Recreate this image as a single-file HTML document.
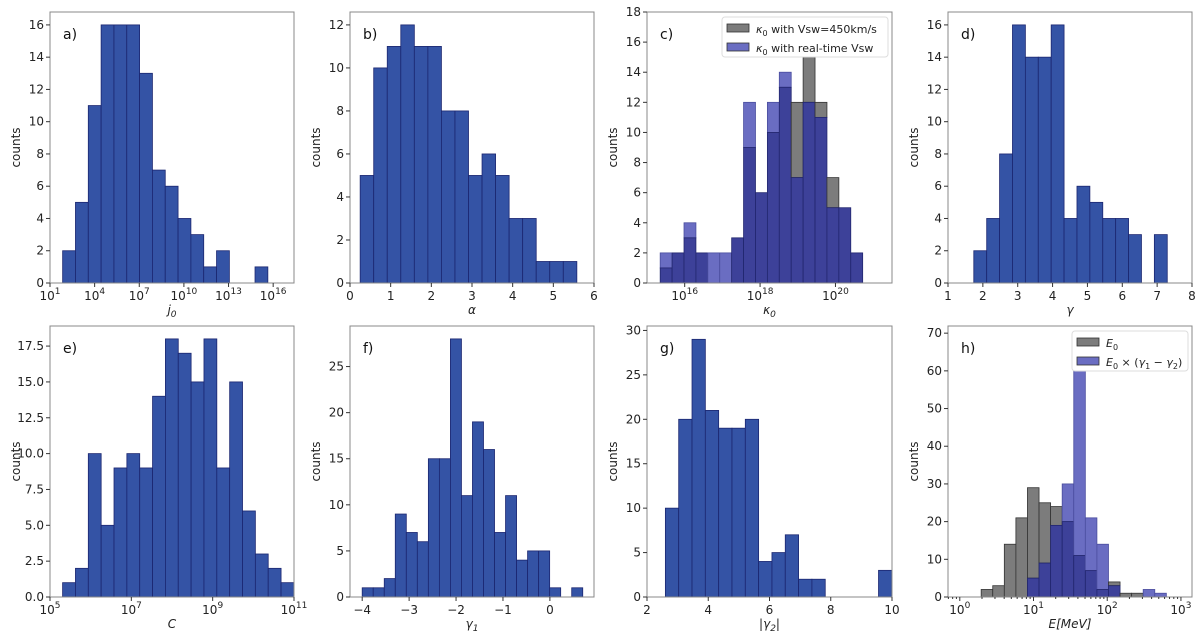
<!DOCTYPE html>
<html><head><meta charset="utf-8"><style>
html,body{margin:0;padding:0;background:#fff;}
svg{display:block;font-family:"DejaVu Sans","Liberation Sans",sans-serif;}
</style></head><body>
<svg id="fig" width="1200" height="632" viewBox="0 0 1200 632" xmlns="http://www.w3.org/2000/svg"></svg>
<script>
// ---- data ----
const aCounts=[2,5,11,16,16,16,13,7,6,4,3,1,2,0,0,1];
const bCounts=[5,10,11,12,11,11,8,8,5,6,5,3,3,1,1,1];
const cGray=[1,2,3,2,0,0,3,9,6,10,13,12,15,12,7,5,2];
const cBlue=[2,2,4,2,2,2,3,12,6,12,14,7,12,11,5,5,2];
const dCounts=[2,4,8,16,14,14,16,4,6,5,4,4,3,0,3];
const eCounts=[1,2,10,5,9,10,9,14,18,17,15,18,9,15,6,3,2,1];
const fCounts=[1,1,2,9,7,6,15,15,28,11,19,16,7,11,4,5,5,1,0,1];
const gCounts=[10,20,29,21,19,19,20,4,5,7,2,2,0,0,0,0,3];
const hGray=[2,3,14,21,29,25,24,20,11,7,2,4,1,1,0,0];
const hBlue=[0,0,0,0,5,9,19,30,60,21,14,3,0,0,2,1];
const aTicks=[1,4,7,10,13,16];
const bTicks=[0,1,2,3,4,5,6];
const cTicks=[16,18,20];
const dTicks=[1,2,3,4,5,6,7,8];
const eTicks=[5,7,9,11];
const fTicks=[-4,-3,-2,-1,0];
const gTicks=[2,4,6,8,10];
const hTicks=[0,1,2,3];

const NS="http://www.w3.org/2000/svg";
const svg=document.getElementById('fig');
function el(tag,attrs,parent){const e=document.createElementNS(NS,tag);for(const k in attrs)e.setAttribute(k,attrs[k]);(parent||svg).appendChild(e);return e;}
const MAIN='#3453a5',EDGE='#1b2670',GRAY='#7c7c7c',DARK='#3d4199',LIGHT='#6a6dc2';
function fmt(v,dec){let s=dec?v.toFixed(1):String(v);return s.replace('-','\u2212');}

const panels=[
 {id:'a',x0:50,x1:294,y0:12,y1:283,xlim:[1,17.4],ylim:[0,16.8],yt:[0,2,4,6,8,10,12,14,16],xt:aTicks,log:true,start:1.85,w:0.862,series:[aCounts],xl:'j',xs:'0'},
 {id:'b',x0:350,x1:594,y0:12,y1:283,xlim:[0,6],ylim:[0,12.6],yt:[0,2,4,6,8,10,12],xt:bTicks,start:0.25,w:0.333,series:[bCounts],xl:'α'},
 {id:'c',x0:647,x1:892,y0:12,y1:283,xlim:[15,21.5],ylim:[0,18],yt:[0,2,4,6,8,10,12,14,16,18],xt:cTicks,log:true,start:15.35,w:0.316,series:[cGray,cBlue],xl:'κ',xs:'0'},
 {id:'d',x0:948,x1:1192,y0:12,y1:283,xlim:[1,8],ylim:[0,16.8],yt:[0,2,4,6,8,10,12,14,16],xt:dTicks,start:1.74,w:0.37,series:[dCounts],xl:'γ'},
 {id:'e',x0:50,x1:294,y0:326,y1:597,xlim:[5,11],ylim:[0,18.9],yt:[0,2.5,5,7.5,10,12.5,15,17.5],dec:true,xt:eTicks,log:true,start:5.31,w:0.316,series:[eCounts],xl:'C'},
 {id:'f',x0:350,x1:594,y0:326,y1:597,xlim:[-4.26,0.94],ylim:[0,29.4],yt:[0,5,10,15,20,25],xt:fTicks,start:-4,w:0.235,series:[fCounts],xl:'γ',xs:'1'},
 {id:'g',x0:647,x1:892,y0:326,y1:597,xlim:[2,10],ylim:[0,30.5],yt:[0,5,10,15,20,25,30],xt:gTicks,start:2.6,w:0.435,series:[gCounts],xl:'|γ',xs:'2',xe:'|'},
 {id:'h',x0:948,x1:1192,y0:326,y1:597,xlim:[-0.16,3.15],ylim:[0,71.9],yt:[0,10,20,30,40,50,60,70],xt:hTicks,log:true,minor:true,start:0.29,w:0.157,series:[hGray,hBlue],xl:'E[MeV]'}
];

panels.forEach(p=>{
 const g=el('g',{});
 
 
 const X=v=>p.x0+(v-p.xlim[0])/(p.xlim[1]-p.xlim[0])*(p.x1-p.x0);
 const Y=v=>p.y1-(v-p.ylim[0])/(p.ylim[1]-p.ylim[0])*(p.y1-p.y0);
 if(p.series.length===1){
  p.series[0].forEach((c,i)=>{ if(c<=0)return;
   const xa=X(p.start+i*p.w),xb=X(p.start+(i+1)*p.w);
   const r=el('rect',{x:xa,y:Y(c),width:xb-xa,height:Y(0)-Y(c),fill:MAIN,stroke:EDGE,'stroke-width':0.8},g);
   
   
  });
 } else {
  const gs=p.series[0],bs=p.series[1];
  gs.forEach((gc,i)=>{const bc=bs[i];
   const xa=X(p.start+i*p.w),xb=X(p.start+(i+1)*p.w);
   const lo=Math.min(gc,bc),hi=Math.max(gc,bc);
   if(hi>lo){const r=el('rect',{x:xa,y:Y(hi),width:xb-xa,height:Y(lo)-Y(hi),fill:gc>bc?GRAY:LIGHT,stroke:gc>bc?'#333':'#4a4d9e','stroke-width':0.8},g);
    
    }
   if(lo>0){const r=el('rect',{x:xa,y:Y(lo),width:xb-xa,height:Y(0)-Y(lo),fill:DARK,stroke:'#22266e','stroke-width':0.8},g);
    
    }
  });
 }
 const fr=el('rect',{x:p.x0,y:p.y0,width:p.x1-p.x0,height:p.y1-p.y0,fill:'none',stroke:'#888','stroke-width':1},g);
 
 
 p.yt.forEach(v=>{const y=Y(v);
  el('line',{x1:p.x0-4,x2:p.x0,y1:y,y2:y,stroke:'#333'},g);
  const t=el('text',{x:p.x0-6,y:y+4,'text-anchor':'end','font-size':12,fill:'#222'},g);
  t.textContent=fmt(v,p.dec);
  
  
 });
 if(p.minor){for(let d=Math.floor(p.xlim[0]);d<p.xlim[1];d++)for(let m=2;m<10;m++){const v=d+Math.log10(m);if(v<p.xlim[0]||v>p.xlim[1])continue;const x=X(v);el('line',{x1:x,x2:x,y1:p.y1,y2:p.y1+2,stroke:'#333'},g);}}
 p.xt.forEach(v=>{const x=X(v);
  el('line',{x1:x,x2:x,y1:p.y1,y2:p.y1+4,stroke:'#333'},g);
  const t=el('text',{x:x,y:p.y1+17,'text-anchor':'middle','font-size':12,fill:'#222'},g);
  
  
  if(p.log){t.textContent='10';const s=el('tspan',{dy:-6,'font-size':9},t);s.textContent=String(v);}
  else t.textContent=fmt(v);
 });
 const yl=el('text',{x:0,y:0,transform:`translate(${p.x0-30},${(p.y0+p.y1)/2}) rotate(-90)`,'text-anchor':'middle','font-size':12,fill:'#222'},g);
 yl.textContent='counts';
 
 
 const xl=el('text',{x:(p.x0+p.x1)/2,y:p.y1+31,'text-anchor':'middle','font-size':12,'font-style':'italic',fill:'#222'},g);
 xl.textContent=p.xl;
 if(p.xs){const s=el('tspan',{dy:3,'font-size':9},xl);s.textContent=p.xs;}
 if(p.xe){const s=el('tspan',{dy:-3},xl);s.textContent=p.xe;}
 
 
 const pl=el('text',{x:p.x0+13,y:p.y0+27,'font-size':14,fill:'#111'},g);
 pl.textContent=p.id+')';
 
 
});

function legend(x,y,w,h,items){
 const g=el('g',{});
 
 
 el('rect',{x:x,y:y,width:w,height:h,rx:3,fill:'#fff','fill-opacity':0.85,stroke:'#ddd'},g);
 items.forEach((it,i)=>{
  const yy=y+7+i*19;
  el('rect',{x:x+5,y:yy,width:22,height:8,fill:it.c,stroke:'#333','stroke-width':0.8},g);
  const t=el('text',{x:x+34,y:yy+9,'font-size':11,fill:'#222'},g);
  t.innerHTML=it.t;
  
  
 });
}
legend(722,17,166,40,[{c:GRAY,t:'<tspan font-style="italic">κ</tspan><tspan font-size="8" dy="3">0</tspan><tspan dy="-3"> with Vsw=450km/s</tspan>'},{c:LIGHT,t:'<tspan font-style="italic">κ</tspan><tspan font-size="8" dy="3">0</tspan><tspan dy="-3"> with real-time Vsw</tspan>'}]);
legend(1072,331,116,40,[{c:GRAY,t:'<tspan font-style="italic">E</tspan><tspan font-size="8" dy="3">0</tspan>'},{c:LIGHT,t:'<tspan font-style="italic">E</tspan><tspan font-size="8" dy="3">0</tspan><tspan dy="-3"> × (</tspan><tspan font-style="italic">γ</tspan><tspan font-size="8" dy="3">1</tspan><tspan dy="-3"> − </tspan><tspan font-style="italic">γ</tspan><tspan font-size="8" dy="3">2</tspan><tspan dy="-3">)</tspan>'}]);
</script>
</body></html>
